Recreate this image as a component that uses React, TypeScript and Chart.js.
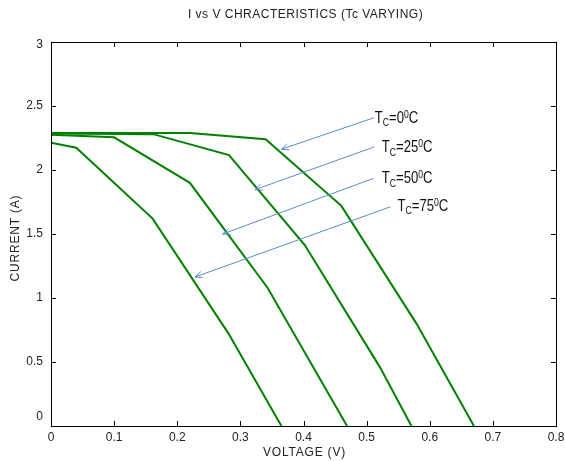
import React, { useEffect, useRef } from "react";
import { Chart, registerables } from "chart.js";

Chart.register(...registerables);

// ---- data ----
const voltage0 = [0, 0.22, 0.34, 0.46, 0.579, 0.67];
const current0 = [2.29, 2.29, 2.24, 1.72, 0.8, 0];
const voltage25 = [0, 0.162, 0.282, 0.402, 0.521, 0.571];
const current25 = [2.285, 2.28, 2.117, 1.414, 0.46, 0];
const voltage50 = [0, 0.1, 0.22, 0.343, 0.469];
const current50 = [2.275, 2.255, 1.9, 1.08, 0];
const voltage75 = [0, 0.04, 0.161, 0.281, 0.365];
const current75 = [2.213, 2.174, 1.62, 0.724, 0];

const xTicks = [0, 0.1, 0.2, 0.3, 0.4, 0.5, 0.6, 0.7, 0.8];
const xTickLabels = ["0", "0.1", "0.2", "0.3", "0.4", "0.5", "0.6", "0.7", "0.8"];
const yTicks = [0, 0.5, 1, 1.5, 2, 2.5, 3];
const yTickLabels = ["0", "0.5", "1", "1.5", "2", "2.5", "3"];

const titleText = "I vs V CHRACTERISTICS (Tc VARYING)";
const xTitle = "VOLTAGE (V)";
const yTitle = "CURRENT (A)";

// annotations: temperatures, label anchors, arrow start/end (data units)
const tempLabels = ["0", "25", "50", "75"];
const labelV = [0.513, 0.524, 0.524, 0.549];
const labelI = [2.415, 2.1875, 1.943, 1.727];
const arrowFromV = [0.512, 0.512, 0.511, 0.538];
const arrowFromI = [2.409, 2.18, 1.935, 1.713];
const arrowToV = [0.365, 0.323, 0.272, 0.228];
const arrowToI = [2.162, 1.846, 1.5, 1.164];

const GREEN = "#008000";
const ARROW = "#5b8bd0";

function pts(v: number[], c: number[]) {
  return v.map((x, i) => ({ x, y: c[i] }));
}

const decor = {
  id: "decor",
  afterDatasetsDraw(chart: any) {
    const ctx: any = chart.ctx;
    const { left, right, top, bottom } = chart.chartArea;
    const xs = chart.scales.x;
    const ys = chart.scales.y;
    ctx.save();
    // frame
    ctx.strokeStyle = "#000";
    ctx.lineWidth = 1;
    ctx.strokeRect(Math.round(left) + 0.5, Math.round(top) + 0.5, Math.round(right - left), Math.round(bottom - top));
    // ticks inward
    const tl = 5;
    ctx.beginPath();
    xTicks.forEach((t) => {
      const px = Math.round(xs.getPixelForValue(t)) + 0.5;
      ctx.moveTo(px, bottom);
      ctx.lineTo(px, bottom - tl);
      ctx.moveTo(px, top);
      ctx.lineTo(px, top + tl);
    });
    yTicks.forEach((t) => {
      const py = Math.round(ys.getPixelForValue(t)) + 0.5;
      ctx.moveTo(left, py);
      ctx.lineTo(left + tl, py);
      ctx.moveTo(right, py);
      ctx.lineTo(right - tl, py);
    });
    ctx.stroke();

    // tick labels
    ctx.fillStyle = "#222";
    ctx.font = "12px 'Liberation Sans', Arial, sans-serif";
    ctx.textAlign = "center";
    ctx.textBaseline = "middle";
    xTicks.forEach((t, i) => {
      ctx.fillText(xTickLabels[i], xs.getPixelForValue(t), bottom + 11.5);
    });
    ctx.textAlign = "right";
    yTicks.forEach((t, i) => {
      let py = ys.getPixelForValue(t);
      py = Math.min(Math.max(py, top + 3), bottom - 9);
      ctx.fillText(yTickLabels[i], left - 8, py);
    });

    // titles
    ctx.textAlign = "center";
    ctx.font = "12px 'Liberation Sans', Arial, sans-serif";
    ctx.letterSpacing = "0.5px";
    ctx.fillText(titleText, (left + right) / 2 + 2, 15);
    ctx.letterSpacing = "0.8px";
    ctx.fillText(xTitle, (left + right) / 2 + 1, bottom + 27);
    ctx.save();
    ctx.translate(16, (top + bottom) / 2 + 4);
    ctx.rotate(-Math.PI / 2);
    ctx.fillText(yTitle, 0, 0);
    ctx.restore();
    ctx.letterSpacing = "0px";

    // arrows
    ctx.strokeStyle = ARROW;
    ctx.lineWidth = 1;
    for (let i = 0; i < tempLabels.length; i++) {
      const x1 = xs.getPixelForValue(arrowFromV[i]);
      const y1 = ys.getPixelForValue(arrowFromI[i]);
      const x2 = xs.getPixelForValue(arrowToV[i]);
      const y2 = ys.getPixelForValue(arrowToI[i]);
      ctx.beginPath();
      ctx.moveTo(x1, y1);
      ctx.lineTo(x2, y2);
      const ang = Math.atan2(y1 - y2, x1 - x2);
      const hl = 8;
      const ha = 0.4;
      ctx.moveTo(x2 + hl * Math.cos(ang + ha), y2 + hl * Math.sin(ang + ha));
      ctx.lineTo(x2, y2);
      ctx.lineTo(x2 + hl * Math.cos(ang - ha), y2 + hl * Math.sin(ang - ha));
      ctx.stroke();
    }

    // labels T_C=xx^0C (condensed)
    ctx.fillStyle = "#111";
    ctx.textAlign = "left";
    ctx.textBaseline = "alphabetic";
    const big = "16px 'Liberation Sans', Arial, sans-serif";
    const small = "10.5px 'Liberation Sans', Arial, sans-serif";
    const sx = 0.82;
    for (let i = 0; i < tempLabels.length; i++) {
      const x0 = xs.getPixelForValue(labelV[i]);
      const yc = ys.getPixelForValue(labelI[i]);
      const base = yc + 6;
      ctx.save();
      ctx.translate(x0, 0);
      ctx.scale(sx, 1);
      let x = 0;
      ctx.font = big;
      ctx.fillText("T", x, base);
      x += ctx.measureText("T").width;
      ctx.font = small;
      ctx.fillText("C", x, base + 3.5);
      x += ctx.measureText("C").width;
      ctx.font = big;
      const mid = "=" + tempLabels[i];
      ctx.fillText(mid, x, base);
      x += ctx.measureText(mid).width;
      ctx.font = small;
      ctx.fillText("0", x, base - 5);
      x += ctx.measureText("0").width;
      ctx.font = big;
      ctx.fillText("C", x, base);
      ctx.restore();
    }
    ctx.restore();
  },
};

export default function App() {
  const ref = useRef<HTMLCanvasElement | null>(null);
  useEffect(() => {
    if (!ref.current) return;
    const mk = (v: number[], c: number[]) => ({
      data: pts(v, c),
      borderColor: GREEN,
      backgroundColor: GREEN,
      borderWidth: 2,
      pointRadius: 0,
      showLine: true,
      fill: false,
      tension: 0,
    });
    const chart = new Chart(ref.current, {
      type: "scatter",
      data: {
        datasets: [
          mk(voltage0, current0),
          mk(voltage25, current25),
          mk(voltage50, current50),
          mk(voltage75, current75),
        ],
      },
      options: {
        animation: false,
        responsive: false,
        devicePixelRatio: 1,
        layout: { padding: { left: 51, right: 9, top: 42, bottom: 35 } },
        plugins: { legend: { display: false }, tooltip: { enabled: false }, title: { display: false } },
        scales: {
          x: { type: "linear", min: 0, max: 0.8, display: false },
          y: { type: "linear", min: 0, max: 3, display: false },
        },
      },
      plugins: [decor],
    } as any);
    return () => chart.destroy();
  }, []);
  return (
    <div style={{ position: "fixed", left: 0, top: 0, width: 565, height: 461, background: "#fff" }}>
      <canvas ref={ref} width={565} height={461} style={{ display: "block", width: 565, height: 461 }} />
    </div>
  );
}
